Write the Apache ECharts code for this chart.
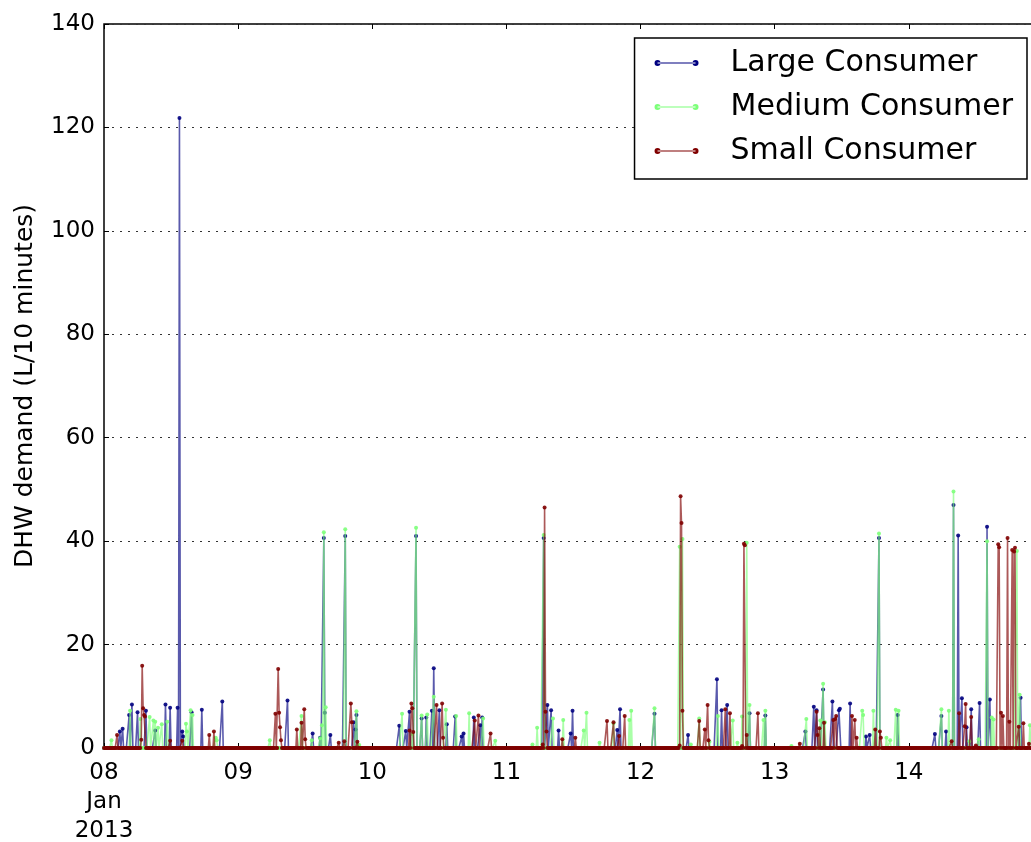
<!DOCTYPE html>
<html>
<head>
<meta charset="utf-8">
<title>DHW demand</title>
<script src="https://cdn.jsdelivr.net/npm/echarts@6/dist/echarts.min.js"></script>
<style>
  html, body { margin: 0; padding: 0; background: #fff; }
  #chart { width: 1031px; height: 842px; }
</style>
</head>
<body>
<div id="chart"></div>
<script>
// Domestic hot water demand per 10-minute interval, 08-14 Jan 2013.
// Each list holds the non-zero intervals as ["DD HH:MM", litres]; every other
// 10-minute interval of the week had zero demand.
const seriesNames = ["Large Consumer", "Medium Consumer", "Small Consumer"];

const largeEvents = [
  ["08 02:50", 3.2], ["08 03:20", 3.7], ["08 04:30", 6.4], ["08 05:00", 8.4],
  ["08 06:00", 6.9], ["08 07:30", 7.2], ["08 09:10", 3.4], ["08 11:00", 8.4],
  ["08 11:50", 7.8], ["08 13:10", 7.8], ["08 13:30", 121.8], ["08 14:00", 3.2],
  ["08 14:10", 2.2], ["08 15:40", 6.9], ["08 17:30", 7.4], ["08 21:10", 9.0],
  ["09 08:50", 9.2], ["09 13:20", 2.8], ["09 14:40", 2.0], ["09 15:20", 40.6],
  ["09 15:30", 6.8], ["09 16:30", 2.5], ["09 19:10", 41.0], ["09 20:40", 5.0],
  ["09 21:00", 3.6], ["09 21:10", 6.4],
  ["10 04:50", 4.3], ["10 06:00", 3.3], ["10 06:40", 7.0], ["10 07:50", 41.0],
  ["10 08:50", 5.7], ["10 09:40", 5.9], ["10 10:40", 7.2], ["10 11:00", 15.4],
  ["10 12:00", 7.3], ["10 13:20", 4.6], ["10 14:50", 6.1], ["10 16:00", 2.2],
  ["10 16:20", 2.8], ["10 18:10", 5.9], ["10 19:20", 4.4], ["10 19:40", 5.9],
  ["11 06:40", 40.6], ["11 07:20", 8.3], ["11 08:00", 7.3], ["11 09:20", 3.4],
  ["11 11:30", 2.8], ["11 11:50", 7.2], ["11 19:50", 3.5], ["11 20:20", 7.5],
  ["12 02:30", 6.6], ["12 08:30", 2.5], ["12 13:40", 13.3], ["12 14:30", 7.3],
  ["12 15:30", 8.3], ["12 19:30", 6.7], ["12 22:20", 6.3],
  ["13 05:30", 3.2], ["13 07:00", 8.0], ["13 07:30", 7.3], ["13 08:40", 11.3],
  ["13 10:20", 9.0], ["13 11:30", 7.3], ["13 11:40", 7.6], ["13 13:30", 8.6],
  ["13 16:20", 2.2], ["13 17:00", 2.5], ["13 18:40", 40.6], ["13 22:00", 6.4],
  ["14 04:40", 2.7], ["14 05:50", 6.2], ["14 06:40", 3.2], ["14 08:00", 47.0],
  ["14 08:50", 41.1], ["14 09:30", 9.6], ["14 10:20", 4.0], ["14 11:10", 7.5],
  ["14 12:40", 8.7], ["14 14:00", 42.8], ["14 14:30", 9.4], ["14 20:00", 9.7]
];

const mediumEvents = [
  ["08 01:20", 1.5], ["08 04:40", 7.2], ["08 06:30", 5.6], ["08 08:10", 6.0],
  ["08 08:50", 5.3], ["08 09:10", 5.1], ["08 09:40", 3.9], ["08 10:20", 4.6],
  ["08 11:20", 5.1], ["08 14:40", 4.7], ["08 14:50", 3.2], ["08 15:30", 7.3],
  ["08 15:50", 6.4], ["08 20:00", 2.0], ["08 20:10", 1.5],
  ["09 05:40", 1.5], ["09 11:20", 6.2], ["09 13:10", 1.5], ["09 14:40", 1.9],
  ["09 15:00", 4.4], ["09 15:20", 41.7], ["09 15:40", 7.9], ["09 19:10", 42.3],
  ["09 21:10", 7.1], ["09 21:40", 0.6],
  ["10 05:20", 6.6], ["10 07:10", 2.7], ["10 07:50", 42.6], ["10 08:50", 6.3],
  ["10 09:50", 6.5], ["10 11:00", 9.9], ["10 13:10", 7.4], ["10 15:00", 6.2],
  ["10 17:20", 6.7], ["10 19:50", 5.7], ["10 22:00", 1.4],
  ["11 04:40", 0.7], ["11 05:30", 3.9], ["11 06:40", 41.2], ["11 08:20", 5.7],
  ["11 10:10", 5.4], ["11 13:50", 3.4], ["11 14:20", 6.8], ["11 16:40", 1.0],
  ["11 19:10", 4.8], ["11 22:00", 5.4], ["11 22:20", 7.2],
  ["12 02:30", 7.7], ["12 07:00", 38.9], ["12 07:30", 40.4], ["12 09:00", 0.7],
  ["12 10:30", 5.7], ["12 12:20", 1.2], ["12 13:50", 6.2], ["12 16:30", 5.3],
  ["12 17:20", 1.0], ["12 18:10", 6.1], ["12 19:00", 39.7], ["12 19:30", 8.3],
  ["12 22:00", 5.4], ["12 22:20", 7.2],
  ["13 03:00", 0.4], ["13 05:40", 5.6], ["13 08:10", 5.3], ["13 08:40", 12.4],
  ["13 09:00", 5.0], ["13 15:40", 7.2], ["13 15:50", 6.4], ["13 17:40", 7.2],
  ["13 18:40", 41.5], ["13 20:00", 2.0], ["13 20:40", 1.5], ["13 21:40", 7.4],
  ["13 22:10", 7.2],
  ["14 05:50", 7.5], ["14 07:10", 7.2], ["14 08:00", 49.6], ["14 10:50", 1.3],
  ["14 12:30", 1.7], ["14 14:00", 40.0], ["14 14:50", 5.9], ["14 15:10", 5.5],
  ["14 19:20", 38.1], ["14 19:50", 10.3], ["14 21:40", 4.4]
];

const smallEvents = [
  ["08 02:20", 2.5], ["08 06:40", 1.6], ["08 06:50", 15.9], ["08 07:00", 7.7],
  ["08 07:10", 6.4], ["08 07:20", 6.1], ["08 11:50", 1.4], ["08 14:00", 1.4],
  ["08 18:50", 2.5], ["08 19:40", 3.2],
  ["09 06:40", 6.6], ["09 07:10", 15.3], ["09 07:20", 6.8], ["09 07:30", 4.0],
  ["09 07:40", 1.5], ["09 10:30", 3.6], ["09 11:20", 4.9], ["09 11:50", 7.5],
  ["09 12:00", 1.7], ["09 18:00", 1.0], ["09 19:00", 1.3], ["09 20:10", 8.6],
  ["09 20:20", 5.0], ["09 21:20", 1.2],
  ["10 06:40", 3.4], ["10 07:00", 8.6], ["10 07:10", 7.7], ["10 07:20", 3.1],
  ["10 11:30", 8.3], ["10 12:30", 8.6], ["10 12:40", 2.0], ["10 18:20", 5.3],
  ["10 19:00", 6.3], ["10 21:10", 2.8],
  ["11 06:30", 0.7], ["11 06:50", 46.5], ["11 07:00", 7.0], ["11 07:10", 3.2],
  ["11 10:00", 1.7], ["11 12:20", 2.0], ["11 18:00", 5.2], ["11 19:10", 5.0],
  ["11 20:10", 2.3], ["11 21:10", 6.2],
  ["12 07:00", 0.5], ["12 07:10", 48.7], ["12 07:20", 43.5], ["12 07:30", 7.2],
  ["12 10:30", 5.2], ["12 11:30", 3.6], ["12 12:00", 8.3], ["12 12:10", 1.5],
  ["12 15:10", 7.5], ["12 16:00", 6.7], ["12 18:10", 0.4], ["12 18:30", 39.5],
  ["12 18:40", 39.2], ["12 19:00", 2.5], ["12 21:00", 6.7],
  ["13 04:30", 0.8], ["13 07:30", 7.0], ["13 07:40", 2.5], ["13 08:00", 3.8],
  ["13 08:50", 4.9], ["13 10:30", 5.4], ["13 10:50", 5.6], ["13 11:00", 6.2],
  ["13 13:50", 6.2], ["13 14:20", 5.4], ["13 14:40", 2.0], ["13 18:00", 3.6],
  ["13 18:50", 3.2], ["13 19:00", 2.0],
  ["14 07:40", 1.3], ["14 09:00", 6.7], ["14 10:00", 4.2], ["14 10:10", 8.5],
  ["14 11:10", 6.0], ["14 12:00", 0.5], ["14 16:00", 39.4], ["14 16:10", 38.8],
  ["14 16:30", 6.8], ["14 16:50", 6.2], ["14 17:40", 40.6], ["14 18:00", 5.1],
  ["14 18:30", 38.3], ["14 18:50", 38.0], ["14 19:00", 38.7], ["14 19:40", 4.1],
  ["14 20:30", 4.8], ["14 21:30", 0.8]
];

const yTicks = [0, 20, 40, 60, 80, 100, 120, 140];

// Time base: 10-minute slots from 2013-01-08 00:00 to 2013-01-14 23:50 (UTC).
const STEP = 10 * 60 * 1000;
const DAY = 24 * 60 * 60 * 1000;
const T0 = Date.UTC(2013, 0, 8, 0, 0);
const SLOTS = 7 * 144;
const T1 = T0 + (SLOTS - 1) * STEP;

function parseStamp(s) {
  const day = parseInt(s.slice(0, 2), 10);
  const hh = parseInt(s.slice(3, 5), 10);
  const mm = parseInt(s.slice(6, 8), 10);
  return Date.UTC(2013, 0, day, hh, mm);
}

function buildSeries(events) {
  const lookup = new Map(events.map(e => [parseStamp(e[0]), e[1]]));
  const out = [];
  for (let i = 0; i < SLOTS; i++) {
    const t = T0 + i * STEP;
    out.push([t, lookup.has(t) ? lookup.get(t) : 0]);
  }
  return out;
}

const colors = ["#000080", "#7dff7a", "#800000"];
const allEvents = [largeEvents, mediumEvents, smallEvents];

// Legend glyph: a short line with a dot at each end.
const legendIcon = "path://M0,3a3,3 0 1,0 6,0a3,3 0 1,0 -6,0Z M3,2.5L41,2.5L41,3.5L3,3.5Z M38,3a3,3 0 1,0 6,0a3,3 0 1,0 -6,0Z";

const FONT = "DejaVu Sans";

const chart = echarts.init(document.getElementById("chart"), null, { renderer: "canvas" });

const series = seriesNames.map((name, k) => ({
  name: name,
  type: "line",
  xAxisIndex: 0,
  data: buildSeries(allEvents[k]),
  symbol: "circle",
  symbolSize: 4,
  showSymbol: true,
  showAllSymbol: true,
  sampling: null,
  clip: true,
  color: colors[k],
  lineStyle: { color: colors[k], width: 1.6, opacity: 0.65 },
  itemStyle: { color: colors[k], opacity: 0.9 },
  emphasis: { disabled: true },
  z: 2 + k
}));

chart.setOption({
  animation: false,
  backgroundColor: "#ffffff",
  textStyle: { fontFamily: FONT },
  grid: {
    left: 104,
    top: 24,
    width: 938,
    height: 724,
    show: true,
    borderColor: "#000",
    borderWidth: 1.5,
    backgroundColor: "transparent",
    containLabel: false,
    outerBoundsMode: "none"
  },
  legend: {
    data: seriesNames,
    orient: "vertical",
    right: 4,
    top: 38,
    icon: legendIcon,
    itemWidth: 44,
    itemHeight: 6,
    itemGap: 8,
    padding: [7, 14, 10, 20],
    backgroundColor: "#fff",
    borderColor: "#000",
    borderWidth: 1.5,
    borderRadius: 0,
    selectedMode: false,
    itemStyle: { opacity: 1 },
    textStyle: {
      fontFamily: FONT,
      fontSize: 30,
      color: "#000",
      lineHeight: 36,
      padding: [0, 0, 0, 27]
    }
  },
  xAxis: [
    {
      type: "value",
      min: T0,
      max: T1,
      interval: DAY,
      position: "bottom",
      axisLine: { show: false },
      splitLine: { show: false },
      axisTick: { show: true, inside: true, length: 5, lineStyle: { color: "#000", width: 1 } },
      axisLabel: {
        showMaxLabel: false,
        margin: 11,
        fontFamily: FONT,
        fontSize: 23,
        lineHeight: 29,
        color: "#000",
        formatter: function (v) {
          const d = new Date(v);
          const dd = String(d.getUTCDate()).padStart(2, "0");
          if (v === T0) return dd + "\nJan\n2013";
          return dd;
        }
      }
    },
    {
      type: "value",
      min: T0,
      max: T1,
      interval: DAY,
      position: "top",
      axisLine: { show: false },
      splitLine: { show: false },
      axisTick: { show: true, inside: true, length: 5, lineStyle: { color: "#000", width: 1 } },
      axisLabel: { show: false }
    }
  ],
  yAxis: {
    type: "value",
    min: yTicks[0],
    max: yTicks[yTicks.length - 1],
    interval: 20,
    name: "DHW demand (L/10 minutes)",
    nameLocation: "middle",
    nameGap: 66,
    nameTextStyle: { fontFamily: FONT, fontSize: 25, color: "#000" },
    axisLine: { show: false },
    axisTick: { show: true, inside: true, length: 5, lineStyle: { color: "#000", width: 1 } },
    axisLabel: {
      margin: 9,
      fontFamily: FONT,
      fontSize: 23,
      color: "#000"
    },
    splitLine: {
      show: true,
      lineStyle: { color: "#333", width: 1, type: [2, 6] }
    }
  },
  series: series
});
</script>
</body>
</html>
